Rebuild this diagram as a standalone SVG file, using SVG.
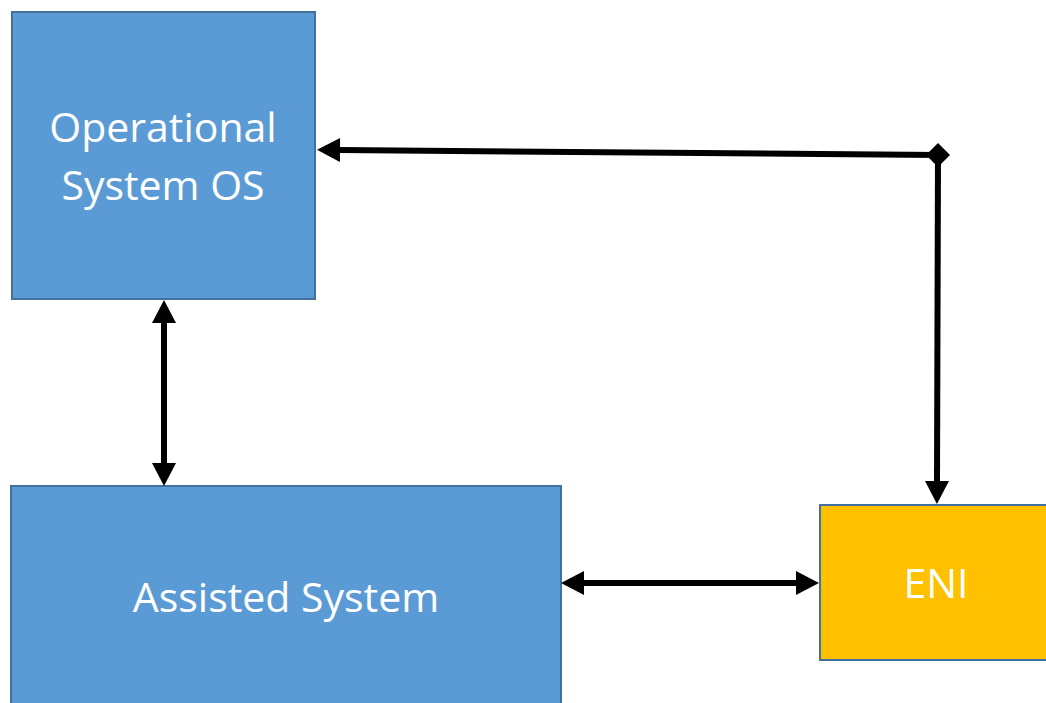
<svg xmlns="http://www.w3.org/2000/svg" width="1046" height="703" viewBox="0 0 1046 703">
  <style>
    .box { stroke: #41719C; stroke-width: 2; }
    .blue { fill: #5B9BD5; }
    .gold { fill: #FFC000; }
    .label { fill: #FFFFFF; font-family: "Open Sans", "Noto Sans", sans-serif; font-size: 41px; text-anchor: middle; }
    .link { stroke: #000000; stroke-width: 6; fill: none; }
  </style>
  <defs>
    <marker id="head" markerUnits="userSpaceOnUse" markerWidth="24" markerHeight="26" refX="0" refY="12" orient="auto-start-reverse" overflow="visible">
      <path d="M0,0 L23,12 L0,24 Z" fill="#000000"/>
    </marker>
  </defs>
  <rect width="1046" height="703" fill="#FFFFFF"/>

  <g id="node-os">
    <rect class="box blue" x="12" y="12" width="303" height="287"/>
    <text class="label" x="163" y="142">Operational</text>
    <text class="label" x="163" y="200">System OS</text>
  </g>

  <g id="node-assisted">
    <rect class="box blue" x="11" y="486" width="550" height="230"/>
    <text class="label" x="286" y="612">Assisted System</text>
  </g>

  <g id="node-eni">
    <rect class="box gold" x="820" y="505" width="240" height="155"/>
    <text class="label" x="936" y="598">ENI</text>
  </g>

  <g id="connectors">
    <!-- OS <-> Assisted System -->
    <line class="link" x1="164" y1="323" x2="164" y2="463" marker-start="url(#head)" marker-end="url(#head)"/>
    <!-- Assisted System <-> ENI -->
    <line class="link" x1="584" y1="583" x2="796" y2="583" marker-start="url(#head)" marker-end="url(#head)"/>
    <!-- ENI -> OS via junction -->
    <line class="link" x1="340" y1="150" x2="938" y2="155" marker-start="url(#head)"/>
    <line class="link" x1="938" y1="155" x2="937" y2="481" marker-end="url(#head)"/>
    <polygon points="938,143 950,155 938,167 926,155" fill="#000000"/>
  </g>
</svg>
